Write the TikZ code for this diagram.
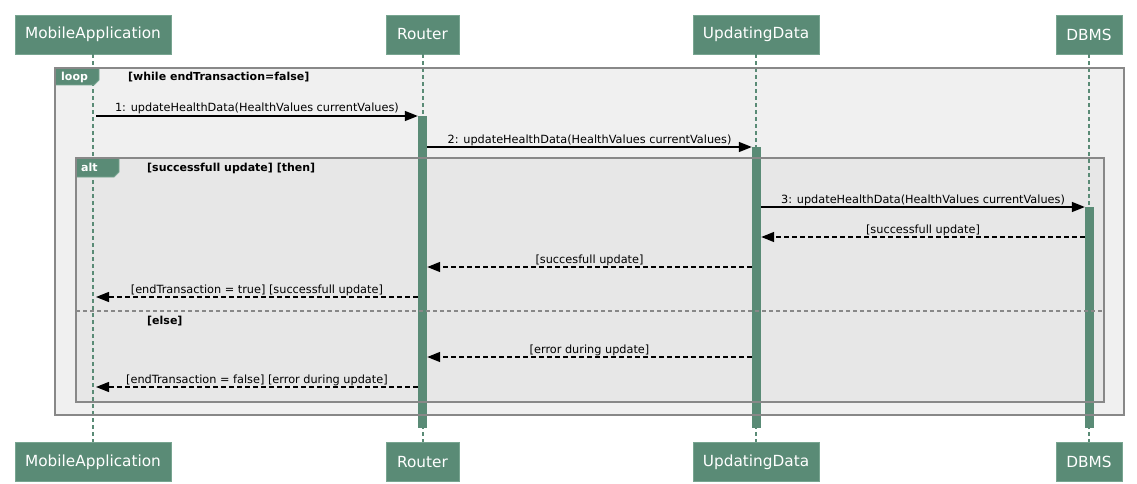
\documentclass[tikz,border=0pt]{standalone}
\usepackage{fontspec}
\setmainfont{DejaVu Sans}
\usetikzlibrary{arrows.meta}
\definecolor{umlgreen}{RGB}{90,139,118}
\definecolor{umlgreenedge}{RGB}{120,165,145}
\definecolor{loopbg}{RGB}{240,240,240}
\definecolor{altbg}{RGB}{231,231,231}
\definecolor{framegray}{RGB}{136,136,136}
\tikzset{
  participant/.style={fill=umlgreen, draw=umlgreenedge, line width=0.8pt, text=white,
    font=\fontsize{15.3}{18}\selectfont, minimum height=39pt, inner sep=0pt},
  lifeline/.style={draw=umlgreen, line width=2pt, dash pattern=on 4pt off 3pt},
  actbar/.style={fill=umlgreen, draw=none, minimum width=9pt, inner sep=0pt, anchor=north},
  msg/.style={draw=black, line width=1.4pt, -{Triangle[length=13pt,width=10pt]}},
  ret/.style={msg, dash pattern=on 5pt off 3pt},
  lbl/.style={font=\fontsize{11.3}{13}\selectfont, anchor=base, yshift=4pt, inner sep=0pt, text=black},
  framebox/.style={draw=framegray, line width=1.5pt},
  tabshape/.style={fill=umlgreen, draw=umlgreenedge, line width=0.8pt},
  tabtext/.style={font=\bfseries\fontsize{11}{13}\selectfont, text=white, anchor=base west, inner sep=0pt},
  condtext/.style={font=\bfseries\fontsize{11}{13}\selectfont, text=black, anchor=base west, inner sep=0pt},
  sepline/.style={draw=framegray, line width=1.3pt, dash pattern=on 4pt off 3pt}
}
\begin{document}
\begin{tikzpicture}[x=1pt,y=-1pt]
\useasboundingbox[fill=white] (0,0) rectangle (1137,484);

% frame backgrounds
\fill[loopbg] (55,68) rectangle (1124,415);
\fill[altbg] (76,158) rectangle (1104,402);

% participants
\node[participant, minimum width=156pt] (maT) at (93,34.5) {MobileApplication};
\node[participant, minimum width=73pt] (roT) at (422.5,34.5) {Router};
\node[participant, minimum width=126pt] (udT) at (756,34.5) {UpdatingData};
\node[participant, minimum width=66pt] (dbT) at (1089,34.5) {DBMS};
\node[participant, minimum width=156pt] (maB) at (93,462) {MobileApplication};
\node[participant, minimum width=73pt] (roB) at (422.5,462) {Router};
\node[participant, minimum width=126pt] (udB) at (756,462) {UpdatingData};
\node[participant, minimum width=66pt] (dbB) at (1089,462) {DBMS};

% lifelines
\draw[lifeline] (maT.south) -- (maB.north);
\draw[lifeline] (roT.south) -- (roB.north);
\draw[lifeline] (udT.south) -- (udB.north);
\draw[lifeline] (dbT.south) -- (dbB.north);

% frame tabs
\filldraw[tabshape] (55,68) -- (99,68) -- (99,80) -- (94,85) -- (55,85) -- cycle;
\node[tabtext] (looplbl) at (61,81) {loop};
\node[condtext] (loopcond) at (128,81) {[while endTransaction=false]};
\filldraw[tabshape] (76,158) -- (119,158) -- (119,172) -- (114,177) -- (76,177) -- cycle;
\node[tabtext] (altlbl) at (81,171) {alt};
\node[condtext] (altcond) at (147,171) {[successfull update] [then]};
\node[condtext] (elsecond) at (147,324) {[else]};

% activation bars
\node[actbar, minimum height=312pt] (roA) at (422.5,116) {};
\node[actbar, minimum height=281pt] (udA) at (756.5,147) {};
\node[actbar, minimum height=221pt] (dbA) at (1089.5,207) {};

% lifeline endpoints on MobileApplication
\coordinate (ma1) at (96,116);
\coordinate (ma6) at (96,297);
\coordinate (ma8) at (96,387);

% messages
\draw[msg] (ma1) -- node[lbl] {1: updateHealthData(HealthValues currentValues)} (roA.north west);
\draw[msg] (roA.east |- 0,147) -- node[lbl] {2: updateHealthData(HealthValues currentValues)} (udA.north west);
\draw[msg] (udA.east |- 0,207) -- node[lbl] {3: updateHealthData(HealthValues currentValues)} (dbA.north west);
\draw[ret] (dbA.west |- 0,237) -- node[lbl] {[successfull update]} (udA.east |- 0,237);
\draw[ret] (udA.west |- 0,267) -- node[lbl] {[succesfull update]} (roA.east |- 0,267);
\draw[ret] (roA.west |- 0,297) -- node[lbl] {[endTransaction = true] [successfull update]} (ma6);
\draw[ret] (udA.west |- 0,357) -- node[lbl] {[error during update]} (roA.east |- 0,357);
\draw[ret] (roA.west |- 0,387) -- node[lbl] {[endTransaction = false] [error during update]} (ma8);

% alt separator
\draw[sepline] (76,311) -- (1104,311);

% frame borders
\draw[framebox] (55,68) rectangle (1124,415);
\draw[framebox] (76,158) rectangle (1104,402);
\end{tikzpicture}
\end{document}
